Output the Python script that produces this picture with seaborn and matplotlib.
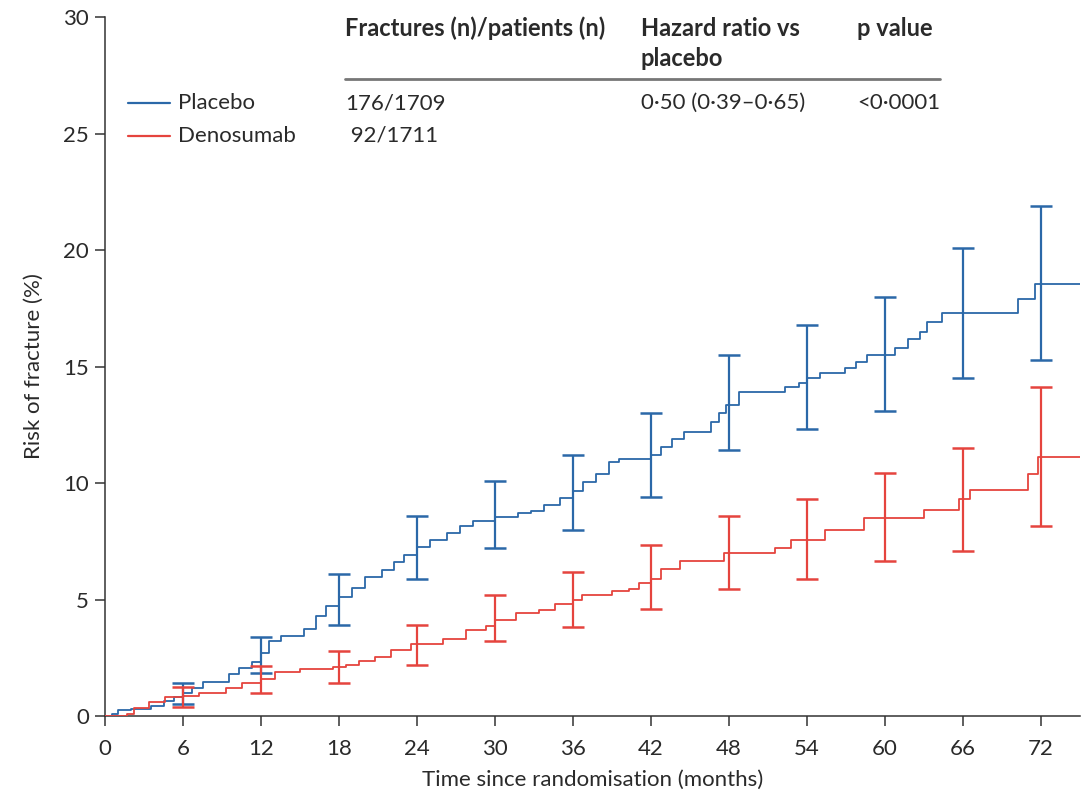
import numpy as np
import pandas as pd
import matplotlib
matplotlib.use("Agg")
import matplotlib.pyplot as plt
from matplotlib.lines import Line2D
import seaborn as sns

# ---- data ----
placebo_t = [0, 0.5, 1, 2, 3.5, 4.5, 5.3, 6, 6.7, 7.5, 9.5, 10.3, 11.3, 12, 12.6, 13.5, 15.3, 16.2, 17,
             18, 19, 20, 21.3, 22.2, 23, 24, 25, 26.3, 27.3, 28.3, 30, 31.8, 32.8, 33.8, 35, 36, 36.8,
             37.8, 38.8, 39.5, 42, 42.8, 43.6, 44.5, 46.6, 47.2, 47.8, 48.8, 52.3, 53.4, 54, 55, 56.9,
             57.8, 58.6, 60.8, 61.8, 62.7, 63.2, 64.4, 70.2, 71.5, 75]
placebo_v = [0, 0.1, 0.25, 0.3, 0.45, 0.65, 0.8, 1.0, 1.2, 1.45, 1.8, 2.05, 2.3, 2.7, 3.2, 3.45, 3.75, 4.3, 4.7,
             5.1, 5.5, 5.95, 6.25, 6.6, 6.9, 7.25, 7.55, 7.85, 8.15, 8.35, 8.55, 8.7, 8.8, 9.05, 9.35, 9.65, 10.05,
             10.4, 10.9, 11.05, 11.2, 11.55, 11.9, 12.2, 12.6, 13.0, 13.35, 13.9, 14.1, 14.3, 14.5, 14.7, 14.95,
             15.2, 15.5, 15.8, 16.2, 16.5, 16.9, 17.3, 17.9, 18.55, 18.55]
deno_t = [0, 1.7, 2.2, 3.4, 4.6, 6, 7.2, 9.3, 10.5, 12, 13.1, 15, 17.5, 18.5, 19.5, 20.8, 22, 23.5, 26,
          27.8, 29.3, 30, 31.6, 33.4, 34.6, 36, 36.7, 39, 40.3, 41.1, 42, 42.8, 44.2, 47.6, 51.5, 52.8,
          55.4, 58.4, 63, 65.7, 66.5, 71, 71.8, 75]
deno_v = [0, 0.1, 0.33, 0.6, 0.8, 0.87, 1.0, 1.2, 1.4, 1.6, 1.9, 2.0, 2.1, 2.2, 2.35, 2.55, 2.85, 3.1, 3.3,
          3.7, 3.85, 4.1, 4.4, 4.55, 4.8, 5.0, 5.2, 5.35, 5.45, 5.7, 5.9, 6.3, 6.65, 6.98, 7.2, 7.55,
          8.0, 8.5, 8.85, 9.3, 9.7, 10.4, 11.1, 11.1]

ci_months = [6, 12, 18, 24, 30, 36, 42, 48, 54, 60, 66, 72]
placebo_lo = [0.5, 1.86, 3.9, 5.9, 7.2, 8.0, 9.4, 11.4, 12.3, 13.1, 14.5, 15.3]
placebo_hi = [1.4, 3.4, 6.1, 8.6, 10.1, 11.2, 13.0, 15.5, 16.8, 18.0, 20.1, 21.9]
deno_lo = [0.4, 1.0, 1.4, 2.2, 3.2, 3.8, 4.6, 5.45, 5.9, 6.65, 7.1, 8.15]
deno_hi = [1.26, 2.15, 2.8, 3.9, 5.2, 6.2, 7.35, 8.6, 9.3, 10.45, 11.5, 14.1]

x_ticks = [0, 6, 12, 18, 24, 30, 36, 42, 48, 54, 60, 66, 72]
y_ticks = [0, 5, 10, 15, 20, 25, 30]

BLUE = "#2b68a8"
RED = "#e5443e"
DARK = "#333333"
TXT = "#2a2a2a"

sns.set_theme(style="ticks")
plt.rcParams['font.family'] = ['Lato', 'DejaVu Sans']

W, H = 1084, 799
fig = plt.figure(figsize=(W / 100, H / 100), dpi=100)
ax = fig.add_axes([105 / W, 1 - 716 / H, (1080 - 105) / W, (716 - 17) / H])

df_p = pd.DataFrame({"t": placebo_t, "v": placebo_v})
df_d = pd.DataFrame({"t": deno_t, "v": deno_v})
sns.lineplot(data=df_p, x="t", y="v", ax=ax, color=BLUE, lw=1.3, drawstyle="steps-post", zorder=3)
sns.lineplot(data=df_d, x="t", y="v", ax=ax, color=RED, lw=1.3, drawstyle="steps-post", zorder=3)

for lo, hi, c in [(placebo_lo, placebo_hi, BLUE), (deno_lo, deno_hi, RED)]:
    lo = np.array(lo); hi = np.array(hi)
    ax.errorbar(ci_months, (lo + hi) / 2, yerr=(hi - lo) / 2, fmt="none", ecolor=c,
                elinewidth=1.6, capsize=8, capthick=1.8, zorder=4)

ax.set_xlim(0, 75)
ax.set_ylim(0, 30)
ax.set_xticks(x_ticks)
ax.set_yticks(y_ticks)
ax.tick_params(direction="out", length=7.5, width=1.1, colors=DARK, labelsize=16, labelcolor=TXT)
ax.tick_params(axis="x", pad=9)
ax.tick_params(axis="y", pad=4)
for s in ["top", "right"]:
    ax.spines[s].set_visible(False)
for s in ["left", "bottom"]:
    ax.spines[s].set_color(DARK)
    ax.spines[s].set_linewidth(1.1)
ax.set_xlabel("Time since randomisation (months)", fontsize=16, color=TXT, labelpad=8)
ax.set_ylabel("Risk of fracture (%)", fontsize=16, color=TXT, labelpad=14)


def ft(px, py, s, size=16, **kw):
    fig.text(px / W, 1 - py / H, s, va="center", ha="left", fontsize=size, color=TXT, **kw)


ft(345, 28, "Fractures (n)/patients (n)", size=17, fontweight="bold")
ft(641, 28, "Hazard ratio vs", size=17, fontweight="bold")
ft(641, 59, "placebo", size=17, fontweight="bold")
ft(857, 28, "p value", size=17, fontweight="bold")
fig.add_artist(Line2D([345 / W, 940 / W], [1 - 79 / H, 1 - 79 / H], color="#777777", lw=2))
ft(178, 103, "Placebo")
ft(345, 103, "176/1709")
ft(641, 103, "0·50 (0·39–0·65)")
ft(857, 103, "<0·0001")
ft(178, 136, "Denosumab")
ft(345, 136, " 92/1711")
fig.add_artist(Line2D([128 / W, 170 / W], [1 - 103 / H, 1 - 103 / H], color=BLUE, lw=1.6))
fig.add_artist(Line2D([128 / W, 170 / W], [1 - 136 / H, 1 - 136 / H], color=RED, lw=1.6))

fig.savefig("out.png", dpi=100)
